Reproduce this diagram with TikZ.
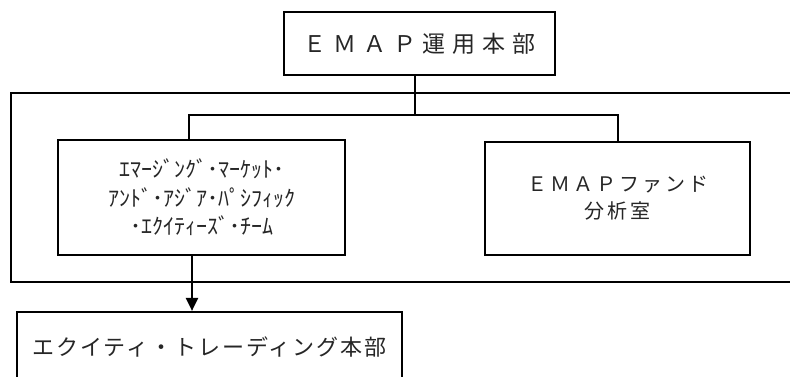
\documentclass[tikz,border=0pt]{standalone}
\usepackage{fontspec}
\setmainfont{Noto Sans CJK JP}
\usetikzlibrary{arrows.meta}
\begin{document}
\begin{tikzpicture}[x=1pt,y=-1pt,
  box/.style={draw, line width=2.2pt, inner sep=0pt, align=center, text=black!85},
  conn/.style={line width=2.2pt},
  arr/.style={line width=2.2pt, -{Triangle[width=12pt,length=13pt]}}]
\useasboundingbox (0,0) rectangle (790,376);
\clip (0,0) rectangle (790,376);
\fill[white] (0,0) rectangle (790,376);
% outer frame (runs off the right edge)
\draw[conn] (830,93) -- (11,93) -- (11,282) -- (830,282);
\node[box, minimum width=271pt, minimum height=63pt,
  font={\fontsize{23pt}{26pt}\selectfont\addfontfeatures{LetterSpace=30}}]
  (top) at (419.5,43.5) {ＥＭＡＰ運用本部};
\node[box, minimum width=287pt, minimum height=115pt,
  font={\fontsize{22pt}{28.5pt}\selectfont}]
  (left) at (201.5,197.5) {ｴﾏｰｼﾞﾝｸﾞ･ﾏｰｹｯﾄ･\\ｱﾝﾄﾞ･ｱｼﾞｱ･ﾊﾟｼﾌｨｯｸ\\･ｴｸｲﾃｨｰｽﾞ･ﾁｰﾑ};
\node[box, minimum width=265pt, minimum height=113pt,
  font={\fontsize{20pt}{27pt}\selectfont\addfontfeatures{LetterSpace=15}}]
  (right) at (617.5,198.5) {ＥＭＡＰファンド\\分析室};
\node[box, minimum width=385pt, minimum height=70pt,
  font={\fontsize{22pt}{26pt}\selectfont\addfontfeatures{LetterSpace=9}}]
  (bottom) at (209.5,347) {エクイティ・トレーディング本部};
\coordinate (jt) at (415,93);
\coordinate (jl) at (189,115);
\coordinate (jr) at (618,115);
\coordinate (jc) at (415,115);
\coordinate (ar) at (192,0);
\draw[conn] (top.south -| jt) -- (jc);
\draw[conn] (left.north -| jl) -- (jl) -- (jr) -- (right.north -| jr);
\draw[arr] (left.south -| ar) -- (bottom.north -| ar);
\end{tikzpicture}
\end{document}
